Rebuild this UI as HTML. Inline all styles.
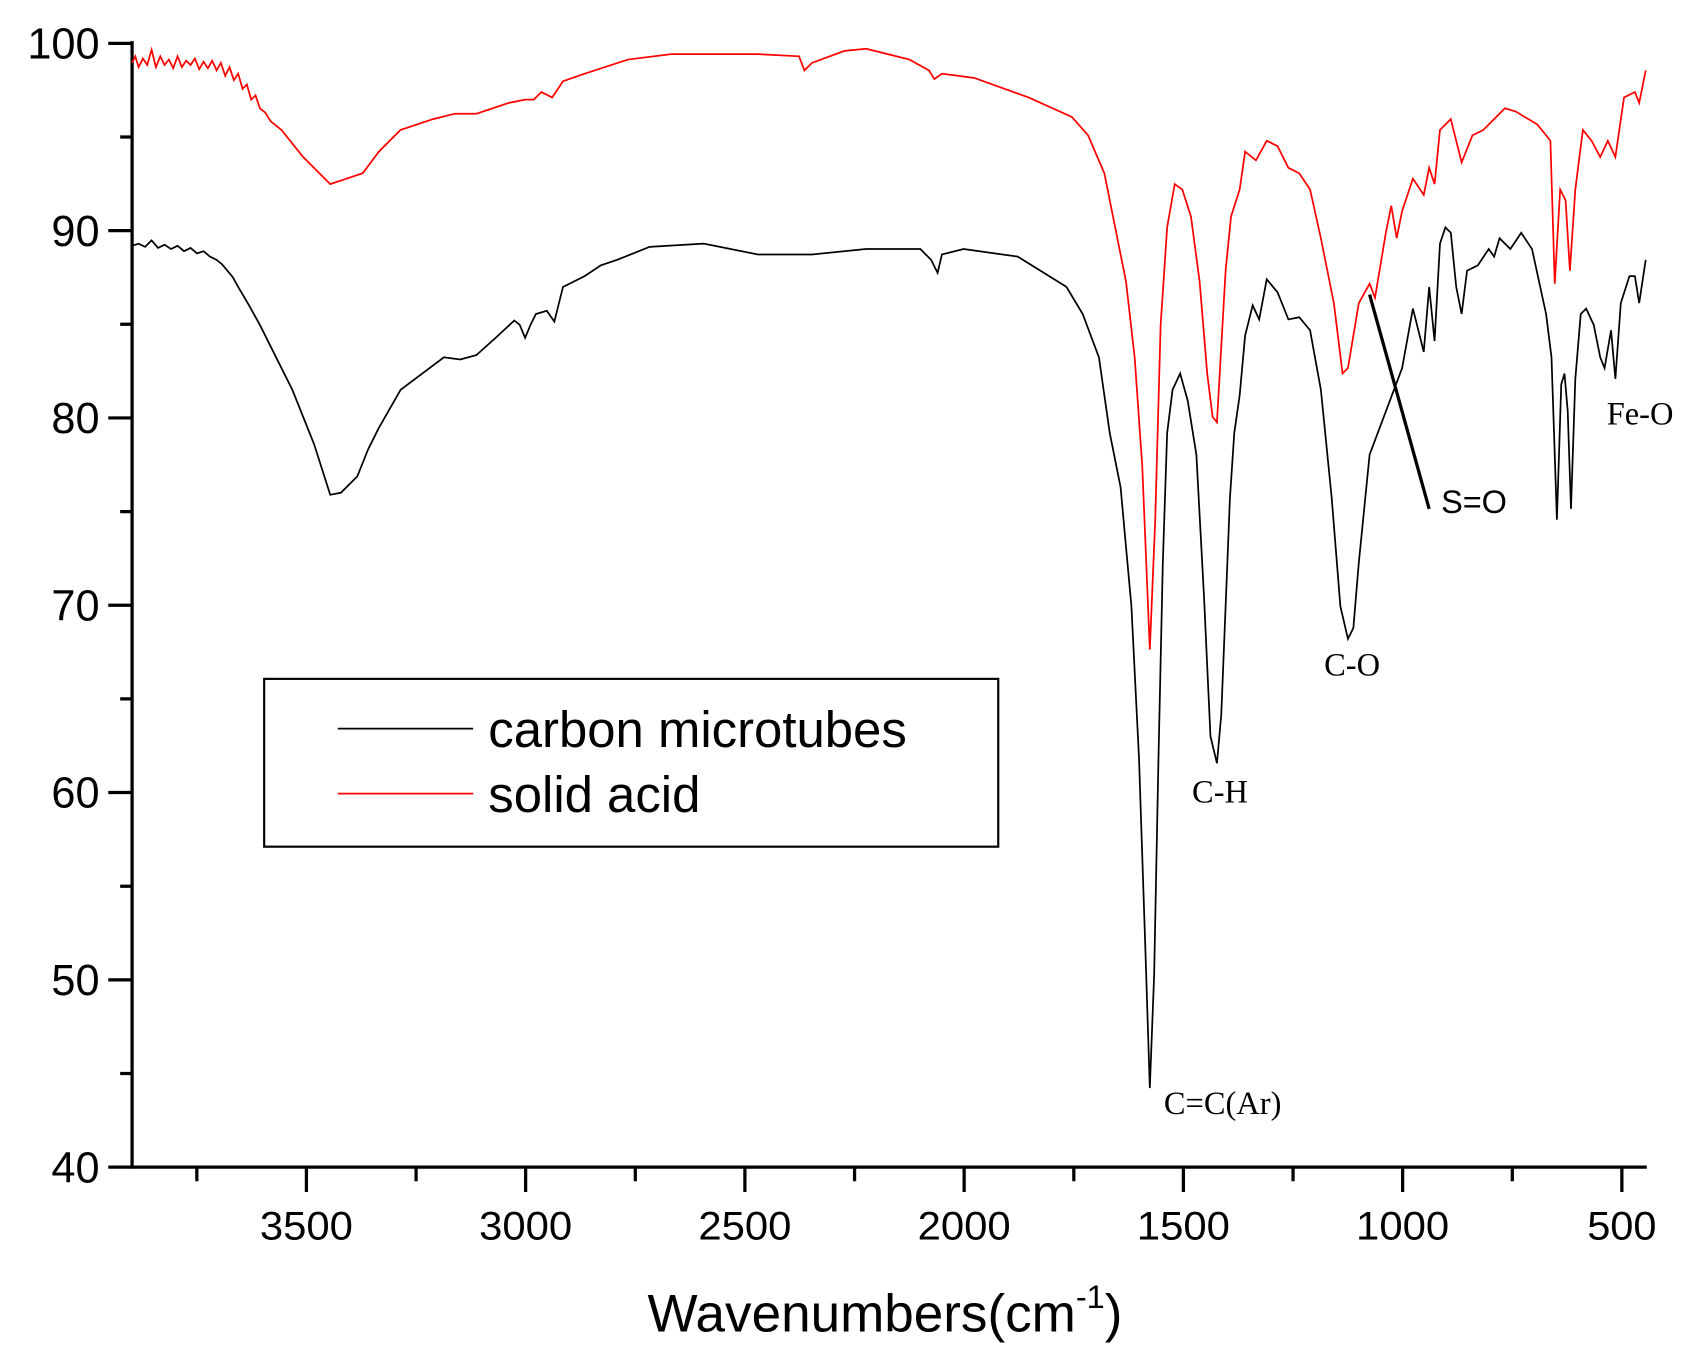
<!DOCTYPE html>
<html><head><meta charset="utf-8"><style>html,body{margin:0;padding:0;background:#fff}svg{display:block}</style></head>
<body>
<svg width="1689" height="1356" viewBox="0 0 1560 1252.4" xmlns="http://www.w3.org/2000/svg" font-family="Liberation Sans, sans-serif">
<rect width="1560" height="1252.4" fill="#fff"/>
<g stroke="#000" stroke-width="3" fill="none">
<line x1="122" y1="38" x2="122" y2="1079"/>
<line x1="121" y1="1078" x2="1521" y2="1078"/>
<path d="M100 40H122M100 213H122M100 386H122M100 559H122M100 732H122M100 905H122M100 1078H122"/>
<path d="M111 126.5H122M111 299.5H122M111 472.5H122M111 645.5H122M111 818.5H122M111 991.5H122"/>
<path d="M283 1078V1101M485.5 1078V1101M688 1078V1101M890.5 1078V1101M1093 1078V1101M1295.5 1078V1101M1498 1078V1101"/>
<path d="M181.8 1078V1091M384.3 1078V1091M586.8 1078V1091M789.3 1078V1091M991.8 1078V1091M1194.3 1078V1091M1396.8 1078V1091"/>
</g>
<g font-size="40" text-anchor="end">
<text x="92" y="54">100</text><text x="92" y="227">90</text><text x="92" y="400">80</text><text x="92" y="573">70</text><text x="92" y="746">60</text><text x="92" y="919">50</text><text x="92" y="1092">40</text>
</g>
<g font-size="37" text-anchor="middle">
<text x="283" y="1145" textLength="86" lengthAdjust="spacingAndGlyphs">3500</text><text x="485.5" y="1145" textLength="86" lengthAdjust="spacingAndGlyphs">3000</text><text x="688" y="1145" textLength="86" lengthAdjust="spacingAndGlyphs">2500</text><text x="890.5" y="1145" textLength="86" lengthAdjust="spacingAndGlyphs">2000</text><text x="1093" y="1145" textLength="86" lengthAdjust="spacingAndGlyphs">1500</text><text x="1295.5" y="1145" textLength="86" lengthAdjust="spacingAndGlyphs">1000</text><text x="1498" y="1145" textLength="64" lengthAdjust="spacingAndGlyphs">500</text>
</g>
<text x="598" y="1230" font-size="49">Wavenumbers(cm<tspan font-size="30" dy="-22">-1</tspan><tspan dy="22">)</tspan></text>
<polyline fill="none" stroke="#000" stroke-width="1.6" points="122,227 128,225 134,228 140,222 146,229 152,226 158,230 164,227 170,232 176,229 182,234 188,232 194,237 200,240 205,244 210,250 215,256 220,265 230,282 240,300 255,330 270,360 290,410 305,457 315,455 330,440 340,415 350,395 370,360 390,345 410,330 425,332 440,328 460,310 475,296 480,300 485,312 490,300 495,290 505,287 512,297 520,265 540,255 555,245 570,240 600,228 650,225 700,235 750,235 800,230 850,230 860,240 866,252 870,235 890,230 940,237 985,265 1000,290 1015,330 1025,400 1035,450 1045,560 1052,700 1058,880 1062,1005 1066,900 1070,700 1074,520 1078,400 1083,360 1090,345 1097,370 1105,420 1112,550 1118,680 1124,705 1128,660 1132,560 1136,460 1140,400 1145,365 1150,310 1157,282 1163,295 1170,258 1180,270 1190,295 1200,293 1210,305 1220,360 1230,460 1238,560 1245,590 1250,580 1255,520 1265,420 1280,380 1295,340 1305,285 1315,325 1320,265 1325,315 1330,225 1335,210 1340,215 1345,265 1350,290 1355,250 1365,245 1375,230 1380,237 1385,220 1395,230 1405,215 1415,230 1428,290 1433,330 1438,480 1442,355 1445,345 1448,380 1451,470 1455,350 1460,290 1465,285 1472,300 1478,330 1482,340 1488,305 1492,350 1497,280 1505,255 1510,255 1514,280 1520,240"/>
<polyline fill="none" stroke="#f00" stroke-width="1.6" points="122,58 125,52 128,62 132,54 136,60 140,46 144,62 148,52 152,60 156,55 160,63 164,52 168,62 172,56 176,60 180,54 184,64 188,57 192,63 196,56 200,65 204,58 208,70 212,62 216,74 220,68 224,82 228,78 232,92 236,88 240,100 245,104 250,112 260,120 280,145 305,170 320,165 335,160 350,140 370,120 400,110 420,105 440,105 470,95 485,92 493,92 500,85 510,90 520,75 540,68 580,55 620,50 700,50 738,52 743,65 750,58 780,47 800,45 840,55 858,65 863,73 870,68 900,72 950,90 990,108 1005,125 1020,160 1030,210 1040,260 1048,330 1055,430 1062,600 1067,480 1072,300 1078,210 1085,170 1092,175 1100,200 1108,260 1115,345 1120,385 1124,390 1128,320 1132,250 1137,200 1145,175 1150,140 1160,148 1170,130 1180,135 1190,155 1200,160 1210,175 1220,220 1232,280 1240,345 1245,340 1255,280 1265,262 1270,275 1280,215 1285,190 1290,220 1295,195 1305,165 1315,180 1320,155 1325,170 1330,120 1340,110 1350,150 1360,125 1370,120 1380,110 1390,100 1400,103 1420,115 1432,130 1436,262 1441,175 1446,185 1450,250 1455,175 1462,120 1470,130 1478,145 1485,130 1492,145 1500,90 1510,85 1514,95 1520,65"/>
<line x1="1265" y1="272" x2="1320" y2="470" stroke="#000" stroke-width="3"/>
<rect x="244" y="627" width="678" height="155" fill="none" stroke="#000" stroke-width="2"/>
<line x1="312" y1="673" x2="437" y2="673" stroke="#000" stroke-width="1.6"/>
<line x1="312" y1="733" x2="437" y2="733" stroke="#f00" stroke-width="1.6"/>
<text x="451" y="690" font-size="47">carbon microtubes</text>
<text x="451" y="750" font-size="47">solid acid</text>
<g font-family="Liberation Serif, serif" font-size="30">
<text x="1075" y="1029">C=C(Ar)</text>
<text x="1101" y="741">C-H</text>
<text x="1223" y="624">C-O</text>
<text x="1484" y="392">Fe-O</text>
</g>
<text x="1331" y="474" font-size="30">S=O</text>
</svg>
</body></html>
